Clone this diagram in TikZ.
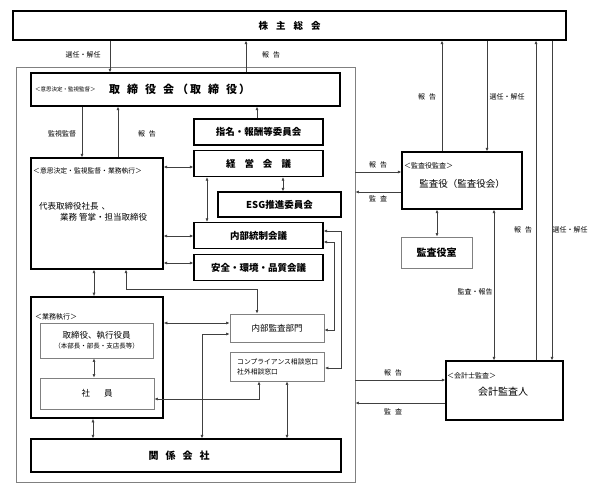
\documentclass[tikz,border=0pt]{standalone}
\usepackage{fontspec}
\setmainfont{Noto Sans CJK JP}
\usetikzlibrary{arrows.meta}
\tikzset{mainbox/.style={draw=black,line width=1.2pt,inner sep=0pt,font=\fontsize{9.5}{11}\selectfont\bfseries}}
\tikzset{subbox/.style={draw=black!50,line width=0.8pt,inner sep=0pt,font=\fontsize{8.5}{11}\selectfont}}
\tikzset{tag/.style={anchor=west,inner sep=0pt,font=\fontsize{6.8}{8}\selectfont}}
\tikzset{lab/.style={inner sep=0pt,font=\fontsize{7}{8}\selectfont}}
\tikzset{oneway/.style={draw=black!75,line width=0.6pt,-{Latex[length=3.5pt,width=3pt]}}}
\tikzset{twoway/.style={oneway,{Latex[length=3.5pt,width=3pt]}-{Latex[length=3.5pt,width=3pt]}}}

\begin{document}
\begin{tikzpicture}[x=1pt,y=-1pt]
            \useasboundingbox (0,0) rectangle (602,484);
            % outer frame of the company
            \node[draw=black!50,line width=0.8pt,inner sep=0pt,minimum width=339pt,minimum height=415pt] (frame) at (185.5,274.5) {};
            % setup the boxes
            \node[mainbox,minimum width=553pt,minimum height=29pt] (soukai) at (289.5,25.5) {株\hspace{8pt}主\hspace{8pt}総\hspace{8pt}会};
            \node[mainbox,minimum width=309pt,minimum height=33pt] (torikai) at (185.5,89.5) {};
            \foreach \name/\y/\txt in {shimei/132/指名・報酬等委員会,keiei/163.5/経\hspace{9pt}営\hspace{9pt}会\hspace{9pt}議,naibu/235.5/内部統制会議,anzen/267.5/安全・環境・品質会議}
            {
                \node[mainbox,minimum width=129pt,minimum height=26pt] (\name) at (258.5,\y) {\txt};
            }
            \node[mainbox,minimum width=123pt,minimum height=25pt] (esg) at (279.5,204.5) {ESG推進委員会};
            \node[mainbox,minimum width=132pt,minimum height=111pt] (daihyo) at (97,213.5) {};
            \node[mainbox,line width=1.6pt,minimum width=132pt,minimum height=121pt] (gyomu) at (97,357.5) {};
            \node[subbox,minimum width=113pt,minimum height=35pt,align=center] (yakuin) at (96.5,340.5) {取締役、執行役員\\[-1pt]{\fontsize{6.5}{8}\selectfont （本部長・部長・支店長等）}};
            \node[subbox,minimum width=114pt,minimum height=31pt] (shain) at (97,393.5) {社\hspace{14pt}員};
            \node[subbox,minimum width=94pt,minimum height=28pt] (kansabu) at (277,328) {内部監査部門};
            \node[subbox,minimum width=94pt,minimum height=29pt] (compl) at (277.5,366.5) {};
            \node[mainbox,minimum width=310pt,minimum height=33pt] (kankei) at (186,455.5) {};
            \node[mainbox,minimum width=120pt,minimum height=57pt] (kansayaku) at (462,180.5) {};
            \node[subbox,font=\fontsize{10}{12}\selectfont\bfseries,minimum width=71pt,minimum height=31pt] (shitsu) at (436.5,252.5) {監査役室};
            \node[mainbox,minimum width=117pt,minimum height=59pt] (kaikei) at (504.5,390.5) {};
            % texts inside the boxes
            \node[tag,font=\fontsize{5.5}{7}\selectfont] (t1) at (35,89) {＜意思決定・監視監督＞};
            \node[anchor=west,inner sep=0pt,font=\fontsize{11}{12}\selectfont\bfseries] (t2) at (109,89) {取\hspace{7pt}締\hspace{7pt}役\hspace{7pt}会\hspace{3pt}（\hspace{2pt}取\hspace{7pt}締\hspace{7pt}役\hspace{2pt}）};
            \node[tag] (t3) at (33,171) {＜意思決定・監視監督・業務執行＞};
            \node[anchor=west,inner sep=0pt,font=\fontsize{8.5}{10}\selectfont] (t4) at (39,206) {代表取締役社長\hspace{3pt}、};
            \node[anchor=west,inner sep=0pt,font=\fontsize{8.5}{10}\selectfont] (t5) at (60,217) {業務\hspace{2pt}管掌・担当取締役};
            \node[tag,font=\fontsize{7}{8}\selectfont] (t6) at (35,317) {＜業務執行＞};
            \node[anchor=west,inner sep=0pt,align=left,font=\fontsize{6.8}{10}\selectfont] (t7) at (237,367) {コンプライアンス相談窓口\\社外相談窓口};
            \node[inner sep=0pt,font=\fontsize{10}{12}\selectfont\bfseries] (t8) at (179,456) {関\hspace{7pt}係\hspace{7pt}会\hspace{7pt}社};
            \node[tag,font=\fontsize{7}{8}\selectfont] (t9) at (404,166) {＜監査役監査＞};
            \node[inner sep=0pt,font=\fontsize{9.5}{11}\selectfont] (t10) at (462,184) {監査役（監査役会）};
            \node[tag,font=\fontsize{7}{8}\selectfont] (t11) at (447,376) {＜会計士監査＞};
            \node[inner sep=0pt,font=\fontsize{10}{12}\selectfont] (t12) at (503,392) {会計監査人};
            % labels of the connectors
            \foreach \n/\x/\y/\txt in {l1/83/55/選任・解任,l2/271/55/報\hspace{4pt}告,l3/62/134/監視監督,l4/147/134/報\hspace{4pt}告,l5/378/165/報\hspace{4pt}告,l6/378/199/監\hspace{4pt}査,l7/427/97/報\hspace{4pt}告,l8/507/97/選任・解任,l9/475/292/監査・報告,l10/523/230/報\hspace{4pt}告,l11/570/230/選任・解任,l12/393/373/報\hspace{4pt}告,l13/393/412/監\hspace{4pt}査}
            {
                \node[lab] (\n) at (\x,\y) {\txt};
            }
            % connectors inside the company
            \draw[oneway] (soukai.south -| 110,0) -- (torikai.north -| 110,0);
            \draw[oneway] (torikai.north -| 246,0) -- (soukai.south -| 246,0);
            \draw[oneway] (torikai.south -| 82,0) -- (daihyo.north -| 82,0);
            \draw[oneway] (daihyo.north -| 118,0) -- (torikai.south -| 118,0);
            \draw[oneway] (shimei.north -| 257,0) -- (torikai.south -| 257,0);
            \draw[twoway] (daihyo.east |- 0,167) -- (keiei.west |- 0,167);
            \draw[twoway] (keiei.south -| 283,0) -- (esg.north -| 283,0);
            \draw[twoway] (keiei.south -| 207,0) -- (naibu.north -| 207,0);
            \draw[twoway] (daihyo.east |- 0,236) -- (naibu.west |- 0,236);
            \draw[twoway] (daihyo.east |- 0,263) -- (anzen.west |- 0,263);
            \draw[twoway] (daihyo.south -| 94,0) -- (gyomu.north -| 94,0);
            \draw[twoway] (daihyo.south -| 126,0) |- (257,289) -- (kansabu.north -| 257,0);
            \draw[twoway] (naibu.east |- 0,242) -| (334,330) -- (kansabu.east |- 0,330);
            \draw[twoway] (naibu.east |- 0,231) -| (341,368) -- (compl.east |- 0,368);
            \draw[twoway] (gyomu.east |- 0,323) -- (kansabu.west |- 0,323);
            \draw[twoway] (kankei.north -| 202,0) |- (kansabu.west |- 0,334);
            \draw[twoway] (shain.east |- 0,399) -| (compl.south -| 259,0);
            \draw[twoway] (compl.south -| 287,0) -- (kankei.north -| 287,0);
            \draw[twoway] (yakuin.south -| 94,0) -- (shain.north -| 94,0);
            \draw[twoway] (gyomu.south -| 93,0) -- (kankei.north -| 93,0);
            % connectors to the auditors
            \draw[oneway] (frame.east |- 0,172) -- (kansayaku.west |- 0,172);
            \draw[oneway] (kansayaku.west |- 0,192) -- (frame.east |- 0,192);
            \draw[oneway] (kansayaku.north -| 442,0) -- (soukai.south -| 442,0);
            \draw[oneway] (soukai.south -| 487,0) -- (kansayaku.north -| 487,0);
            \draw[twoway] (kansayaku.south -| 437,0) -- (shitsu.north -| 437,0);
            \draw[twoway] (kansayaku.south -| 494,0) -- (kaikei.north -| 494,0);
            \draw[oneway] (kaikei.north -| 536,0) -- (soukai.south -| 536,0);
            \draw[oneway] (soukai.south -| 552,0) -- (kaikei.north -| 552,0);
            \draw[oneway] (frame.east |- 0,380) -- (kaikei.west |- 0,380);
            \draw[oneway] (kaikei.west |- 0,403) -- (frame.east |- 0,403);
        \end{tikzpicture}
\end{document}
